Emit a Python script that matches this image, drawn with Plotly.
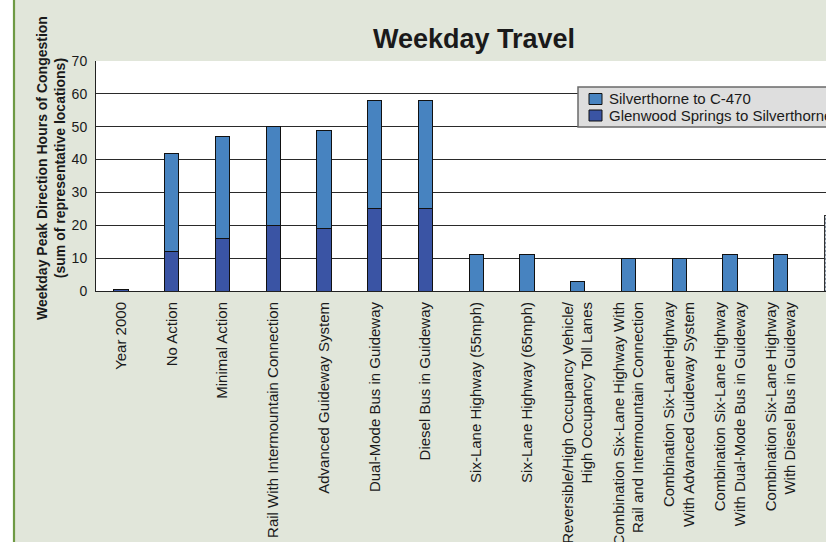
import plotly.graph_objects as go

# Alternatives compared on the x axis
categories = [
    "Year 2000",
    "No Action",
    "Minimal Action",
    "Rail With Intermountain Connection",
    "Advanced Guideway System",
    "Dual-Mode Bus in Guideway",
    "Diesel Bus in Guideway",
    "Six-Lane Highway (55mph)",
    "Six-Lane Highway (65mph)",
    "Reversible/High Occupancy Vehicle/<br>High Occupancy Toll Lanes",
    "Combination Six-Lane Highway With<br>Rail and Intermountain Connection",
    "Combination Six-LaneHighway<br>With Advanced Guideway System",
    "Combination Six-Lane Highway<br>With Dual-Mode Bus in Guideway",
    "Combination Six-Lane Highway<br>With Diesel Bus in Guideway",
]

# Hours of congestion per corridor segment (stacked)
glenwood_name = "Glenwood Springs to Silverthorne"
silverthorne_name = "Silverthorne to C-470"
glenwood_to_silverthorne = [0.6, 12, 16, 20, 19, 25, 25, 0, 0, 0, 0, 0, 0, 0]
silverthorne_to_c470 = [0, 30, 31, 30, 30, 33, 33, 11, 11, 3, 9.8, 10, 11, 11]

# Next alternative, mostly beyond the right edge of the plot
next_alternative_total = [23]

y_ticks = [0, 10, 20, 30, 40, 50, 60, 70]

FONT = "Liberation Sans, Arial, sans-serif"
TEXT = "#1a1a1a"
BG = "#e1e6da"
LIGHT_BLUE = "#4783c0"
DARK_BLUE = "#3a54a4"
OUTLINE = "#111111"

positions = list(range(len(categories)))

fig = go.Figure()
fig.add_trace(go.Bar(
    x=positions, y=glenwood_to_silverthorne, name=glenwood_name,
    showlegend=False,
    marker=dict(color=DARK_BLUE, line=dict(color=OUTLINE, width=1)),
))
fig.add_trace(go.Bar(
    x=positions, y=silverthorne_to_c470, name=silverthorne_name,
    showlegend=False,
    marker=dict(color=LIGHT_BLUE, line=dict(color=OUTLINE, width=1)),
))
fig.add_trace(go.Bar(
    x=[len(categories)], y=next_alternative_total,
    showlegend=False,
    marker=dict(
        color="#c9d3de",
        line=dict(color="#333333", width=1),
        pattern=dict(shape=".", fgcolor="#7d8a99", bgcolor="#d6dde6", size=4, solidity=0.3),
    ),
))

plot_left, plot_top, plot_bottom = 96, 61, 251
W, H = 826, 542
plot_w = W - plot_left
plot_h = H - plot_top - plot_bottom


def px_to_paper_x(px):
    return (px - plot_left) / plot_w


def px_to_paper_y(py):
    return 1 - (py - plot_top) / plot_h


shapes = [
    # white strip and green rule at the far left of the page
    dict(type="rect", xref="paper", yref="paper",
         x0=px_to_paper_x(0), x1=px_to_paper_x(13),
         y0=px_to_paper_y(H + 5), y1=px_to_paper_y(-5),
         fillcolor="white", line=dict(width=0), layer="below"),
    dict(type="line", xref="paper", yref="paper",
         x0=px_to_paper_x(14), x1=px_to_paper_x(14),
         y0=px_to_paper_y(H + 5), y1=px_to_paper_y(-5),
         line=dict(color="#6e9a44", width=2.2), layer="below"),
    # legend box (runs past the right edge of the page)
    dict(type="rect", xref="paper", yref="paper",
         x0=px_to_paper_x(578), x1=px_to_paper_x(860),
         y0=px_to_paper_y(127), y1=px_to_paper_y(87),
         fillcolor="#dedede", line=dict(color="#6a6a6a", width=1.5), layer="above"),
]

annotations = [
    dict(
        text="<b>Weekday Peak Direction Hours of Congestion<br>(sum of representative locations)</b>",
        textangle=-90, xref="paper", yref="paper",
        x=px_to_paper_x(51), y=px_to_paper_y(168),
        xanchor="center", yanchor="middle", showarrow=False,
        font=dict(family=FONT, size=14, color=TEXT),
    ),
]

# legend entries: swatch + label, light series listed first
for row_center, name, colour in [(99, silverthorne_name, LIGHT_BLUE),
                                 (115.5, glenwood_name, DARK_BLUE)]:
    shapes.append(dict(
        type="rect", xref="paper", yref="paper",
        x0=px_to_paper_x(589), x1=px_to_paper_x(602),
        y0=px_to_paper_y(row_center + 5.5), y1=px_to_paper_y(row_center - 5.5),
        fillcolor=colour, line=dict(color=OUTLINE, width=1), layer="above",
    ))
    annotations.append(dict(
        text=name, xref="paper", yref="paper",
        x=px_to_paper_x(607), y=px_to_paper_y(row_center),
        xanchor="left", yanchor="middle", showarrow=False,
        font=dict(family=FONT, size=15, color=TEXT),
    ))

fig.update_layout(
    width=W, height=H,
    template="none",
    barmode="stack",
    bargap=0.72,
    showlegend=False,
    paper_bgcolor=BG,
    plot_bgcolor="white",
    margin=dict(l=plot_left, r=0, t=plot_top, b=plot_bottom, pad=0),
    font=dict(family=FONT, color=TEXT),
    title=dict(
        text="<b>Weekday Travel</b>",
        font=dict(family=FONT, size=27, color=TEXT),
        x=px_to_paper_x(474), xref="paper", xanchor="center",
        y=1 - 39 / H, yref="container", yanchor="middle",
    ),
    xaxis=dict(
        tickmode="array", tickvals=positions, ticktext=categories,
        tickangle=-90,
        range=[-0.493, 13.894],
        tickfont=dict(family=FONT, size=15, color=TEXT),
        showgrid=False, zeroline=False,
        showline=True, linecolor="#222222", linewidth=1,
        ticks="", ticklabelstandoff=4, automargin=False,
    ),
    yaxis=dict(
        range=[0, 70], tickvals=y_ticks,
        tickfont=dict(family=FONT, size=14, color=TEXT),
        showgrid=True, gridcolor="#2a2a2a", gridwidth=1,
        zeroline=False,
        showline=True, linecolor="#222222", linewidth=1,
        ticks="", ticklabelstandoff=5, automargin=False,
    ),
    shapes=shapes,
    annotations=annotations,
)

fig.write_html("out.html")
